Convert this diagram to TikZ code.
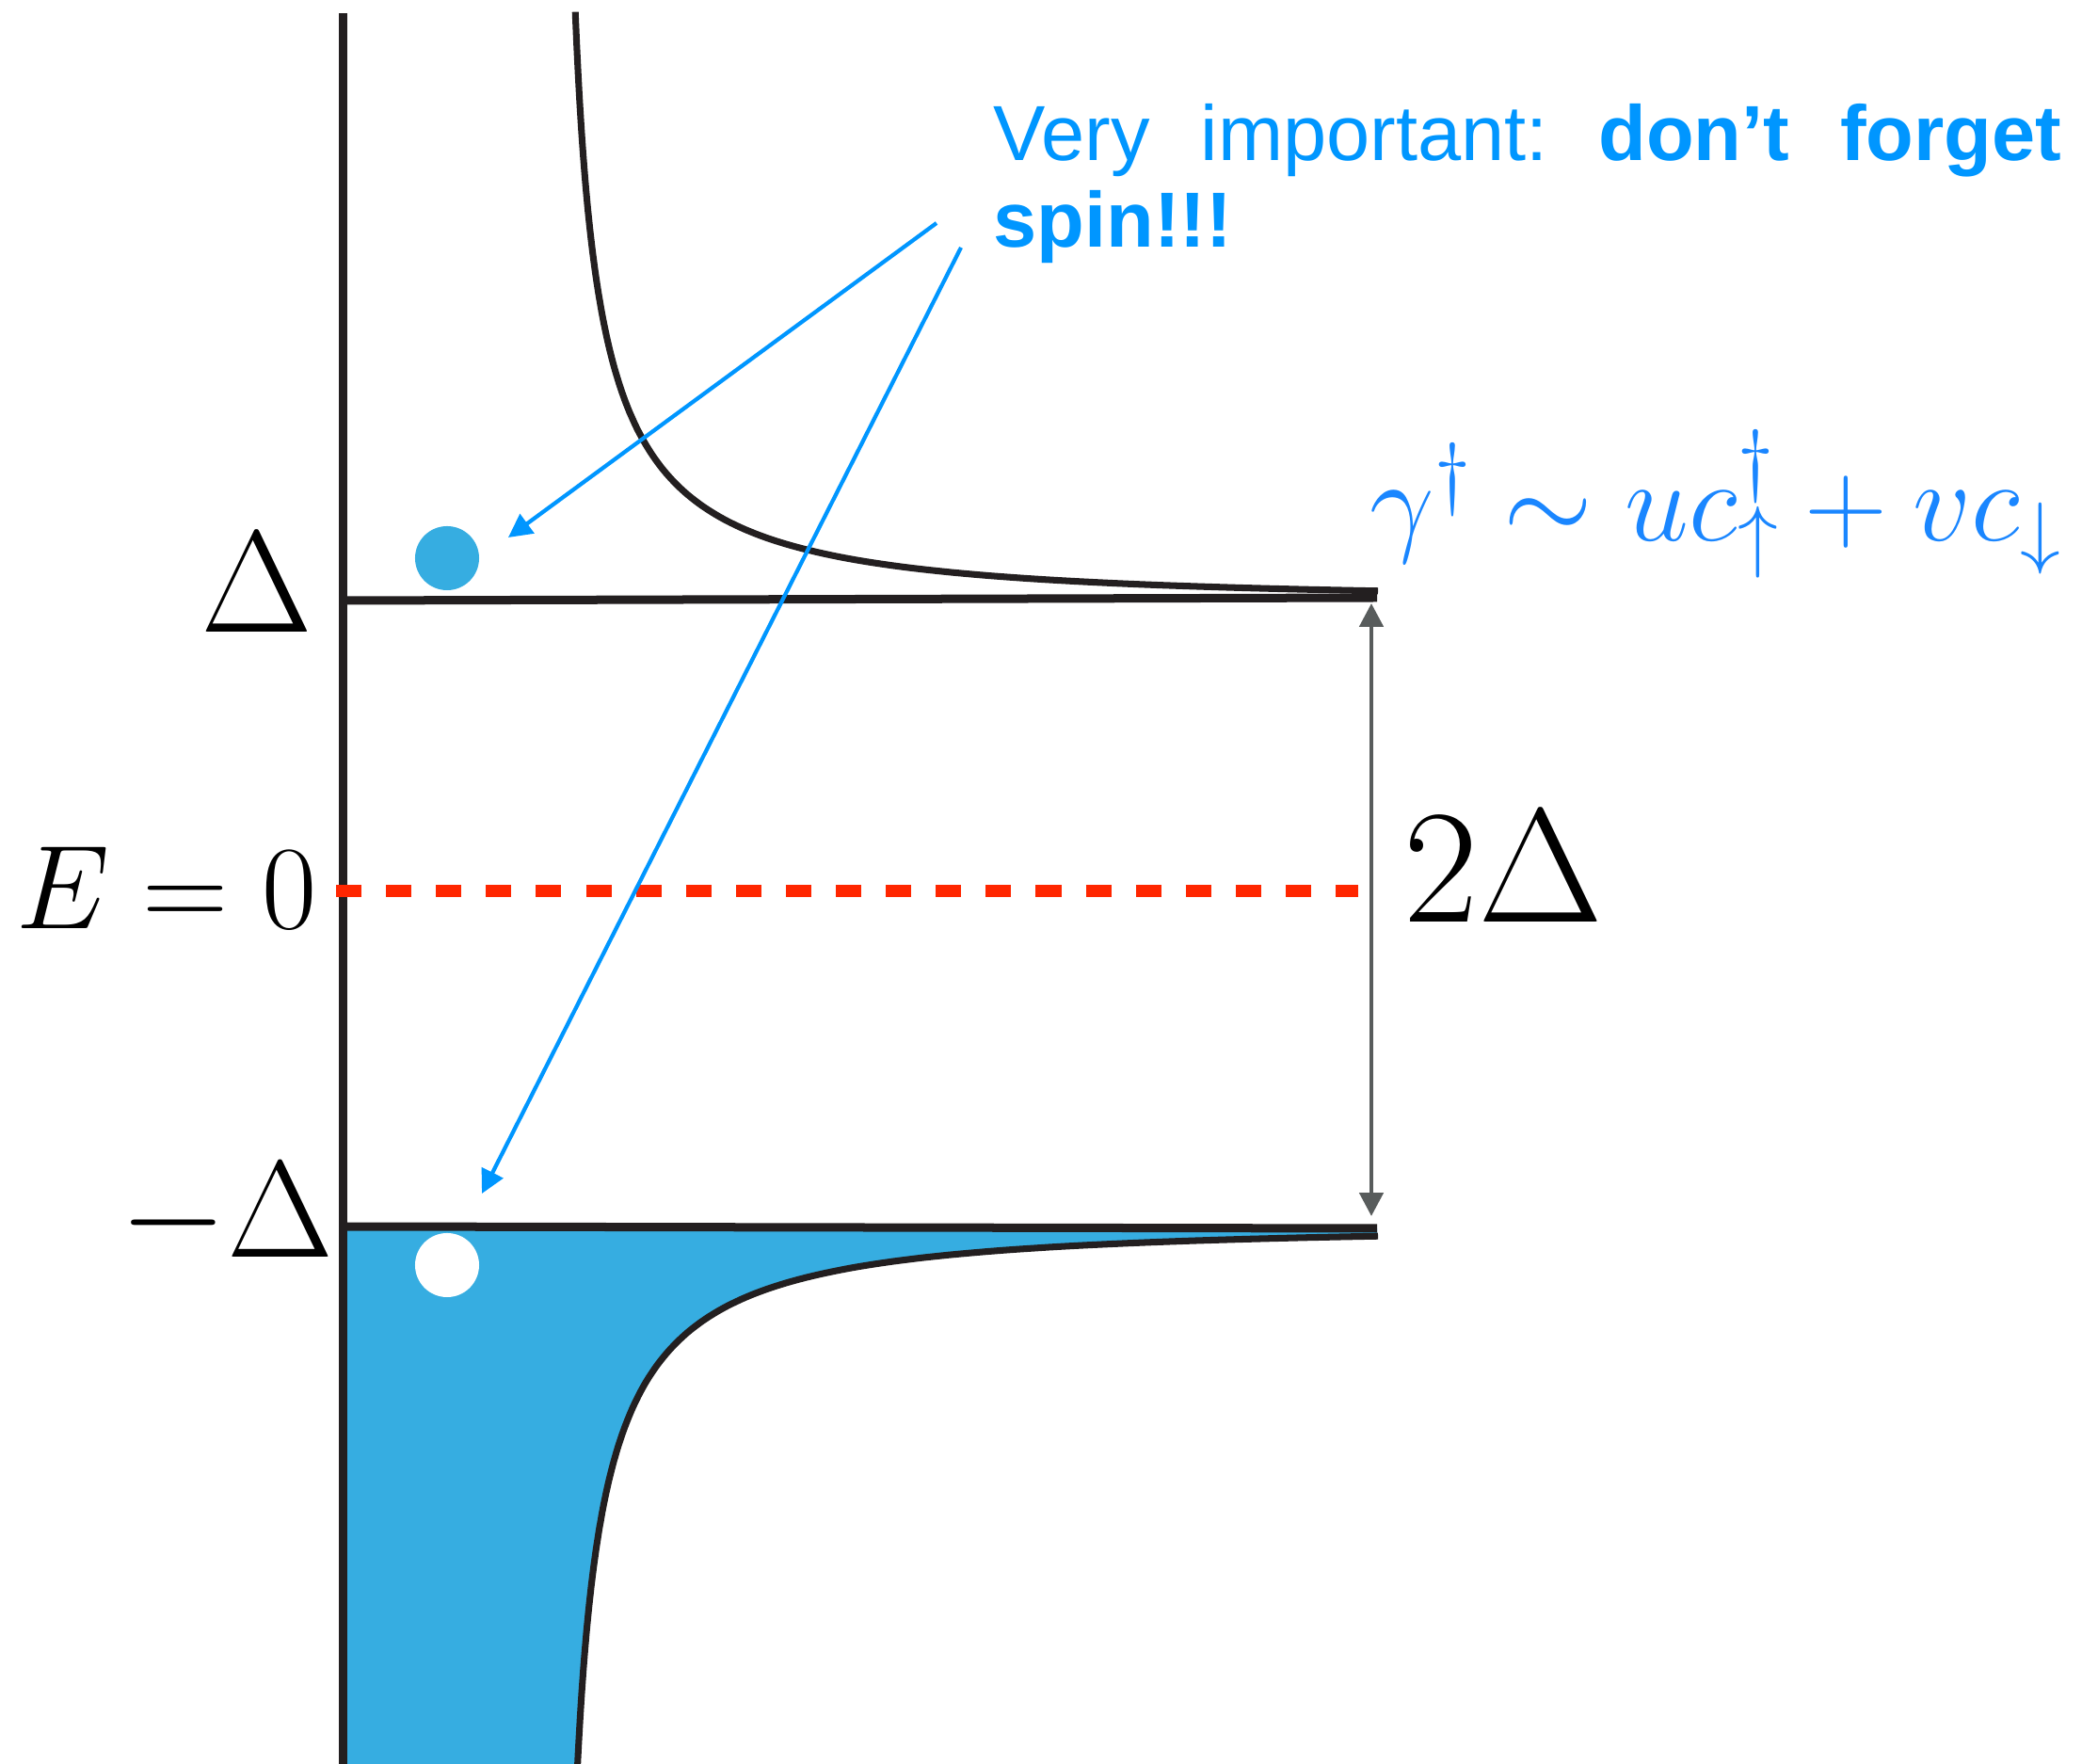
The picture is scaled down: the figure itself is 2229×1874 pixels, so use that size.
\RequirePackage{fix-cm}
\documentclass[tikz,border=0pt]{standalone}
\usepackage{fontspec}
\newfontfamily\helv{Liberation Sans}
\usetikzlibrary{arrows.meta}
\definecolor{linedark}{HTML}{231F20}
\definecolor{fillblue}{HTML}{36ADE1}
\definecolor{textblue}{HTML}{0096FF}
\definecolor{mathblue}{HTML}{1A86FF}
\definecolor{dashred}{HTML}{FF2600}
\definecolor{arrowgrey}{HTML}{585C5C}
\begin{document}
\begin{tikzpicture}[x=0.01cm,y=-0.01cm,
  axisline/.style={draw=linedark,line width=2.56pt},
  dosline/.style={draw=linedark,line width=2pt},
  zeroline/.style={draw=dashred,line width=3.7pt,dash pattern=on 7.7pt off 7.4pt},
  bluearrow/.style={draw=textblue,line width=1.2pt,-{Triangle[length=7.1pt,width=7.1pt]}},
  gaparrow/.style={draw=arrowgrey,line width=1.4pt,{Triangle[length=7.1pt,width=7.1pt]}-{Triangle[length=7.1pt,width=7.1pt]}},
  dot/.style={circle,inner sep=0pt,minimum size=0.68cm},
  lbl/.style={inner sep=0pt,text=black}
]
\useasboundingbox (0,0) rectangle (2229,1874);
% filled lower band
\fill[fillblue] (364,1303) -- (1463,1305) -- (1463,1313)
  -- plot[domain=0.257:1.716,samples=160,variable=\t] ({302+292/tanh(\t)},{996+307*cosh(\t)})
  -- (364,1880) -- cycle;
% DOS curves
\draw[dosline] plot[domain=0.257:1.776,samples=160,variable=\t] ({302+292/tanh(\t)},{945-307*cosh(\t)});
\draw[dosline] plot[domain=0.257:1.716,samples=160,variable=\t] ({302+292/tanh(\t)},{996+307*cosh(\t)});
% axis and gap edges
\coordinate (axtop) at (364,14);
\coordinate (axbot) at (364,1880);
\coordinate (upl) at (364,638);
\coordinate (upr) at (1463,635);
\coordinate (lol) at (364,1303);
\coordinate (lor) at (1463,1305);
\draw[axisline] (axtop) -- (axbot);
\draw[axisline] (upl) -- (upr);
\draw[axisline] (lol) -- (lor);
% E=0 line
\coordinate (zl) at (357,947);
\coordinate (zr) at (1443,947);
\draw[zeroline] (zl) -- (zr);
% gap arrow
\coordinate (gt) at (1457,641);
\coordinate (gb) at (1457,1292);
\draw[gaparrow] (gt) -- (gb);
% dots
\node[dot,fill=fillblue] (pdot) at (475,593) {};
\node[dot,fill=white] (hdot) at (475,1344) {};
% labels
\node[lbl,anchor=base] (dlab) at (273,672) {\fontsize{43.8}{50}\selectfont$\Delta$};
\node[lbl,anchor=base east] (elab) at (337,987) {\fontsize{36}{42}\selectfont$E=0$};
\node[lbl,anchor=base east] (mdlab) at (355,1336) {\fontsize{41.6}{48}\selectfont$-\Delta$};
\node[lbl,anchor=base west] (gaplab) at (1491,980) {\fontsize{49}{56}\selectfont$2\Delta$};
\node[lbl,anchor=base west,text=mathblue] (formula) at (1455,575) {\fontsize{34.7}{40}\selectfont$\gamma^\dagger \sim u c^\dagger_\uparrow + v c_\downarrow$};
% note text
\node[lbl,anchor=base west,text=textblue] (note1) at (1055,171) {\helv\fontsize{23.6}{26}\selectfont\makebox[11.34cm][s]{Very\hfill important:\hfill\textbf{don’t}\hfill\textbf{forget}}};
\node[lbl,anchor=base west,text=textblue] (note2) at (1055,263) {\helv\fontsize{23.6}{26}\selectfont\textbf{spin!!!}};
% blue arrows
\coordinate (a1s) at (995,237);
\coordinate (a1e) at (540,571);
\coordinate (a2s) at (1021,263);
\coordinate (a2e) at (512,1268);
\draw[bluearrow] (a1s) -- (a1e);
\draw[bluearrow] (a2s) -- (a2e);
\end{tikzpicture}
\end{document}
